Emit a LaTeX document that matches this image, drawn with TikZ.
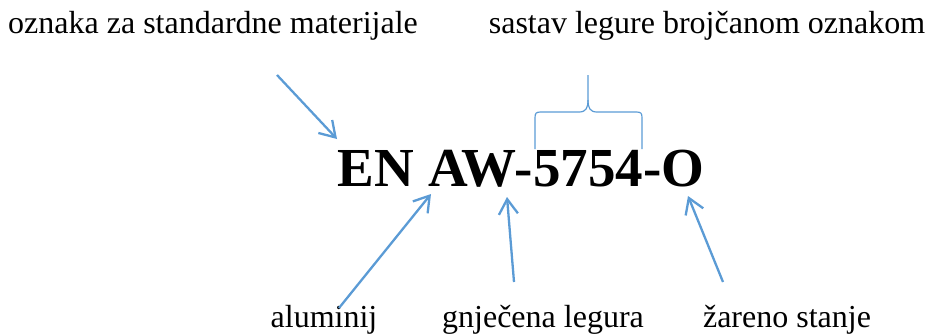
\documentclass[tikz,border=0pt]{standalone}
\usepackage{fontspec}
\setmainfont{Liberation Serif}
\usetikzlibrary{arrows.meta}
\definecolor{arrowblue}{HTML}{5B9BD5}
\begin{document}
\begin{tikzpicture}[x=1pt,y=-1pt,
            label/.style={inner sep=0pt,anchor=base,font=\fontsize{32}{38}\selectfont},
            code/.style={inner sep=0pt,anchor=base,font=\fontsize{55}{64}\selectfont\bfseries},
            pointer/.style={draw=arrowblue,line width=2.3pt,-{Straight Barb[length=15pt,width=19pt]}},
            bracket/.style={draw=arrowblue,line width=1.2pt}]
            \useasboundingbox (0,0) rectangle (929,335);
            % texts
            \node[code] (code) at (521,186) {EN AW-5754-O};
            \node[label] (std) at (213,33) {oznaka za standardne materijale};
            \node[label] (sastav) at (707,33) {sastav legure brojčanom oznakom};
            \node[label] (alu) at (324,327) {aluminij};
            \node[label] (gnj) at (543,327) {gnječena legura};
            \node[label] (zar) at (787,327) {žareno stanje};
            % arrow ends
            \coordinate (stdA) at (277,75);
            \coordinate (stdB) at (337,139);
            \coordinate (aluA) at (339,308);
            \coordinate (aluB) at (431,194);
            \coordinate (gnjA) at (514,282);
            \coordinate (gnjB) at (507,197);
            \coordinate (zarA) at (723,282);
            \coordinate (zarB) at (688,196);
            \draw[pointer] (stdA) -- (stdB);
            \draw[pointer] (aluA) -- (aluB);
            \draw[pointer] (gnjA) -- (gnjB);
            \draw[pointer] (zarA) -- (zarB);
            % brace
            \draw[bracket] (535,149) -- (535,118) .. controls (535,113) and (536,112) .. (541,112)
              -- (579,112) .. controls (586,112) and (588,108) .. (588,100) -- (588,75);
            \draw[bracket] (642,149) -- (642,118) .. controls (642,113) and (641,112) .. (636,112)
              -- (597,112) .. controls (590,112) and (588,108) .. (588,100);
        \end{tikzpicture}
\end{document}
